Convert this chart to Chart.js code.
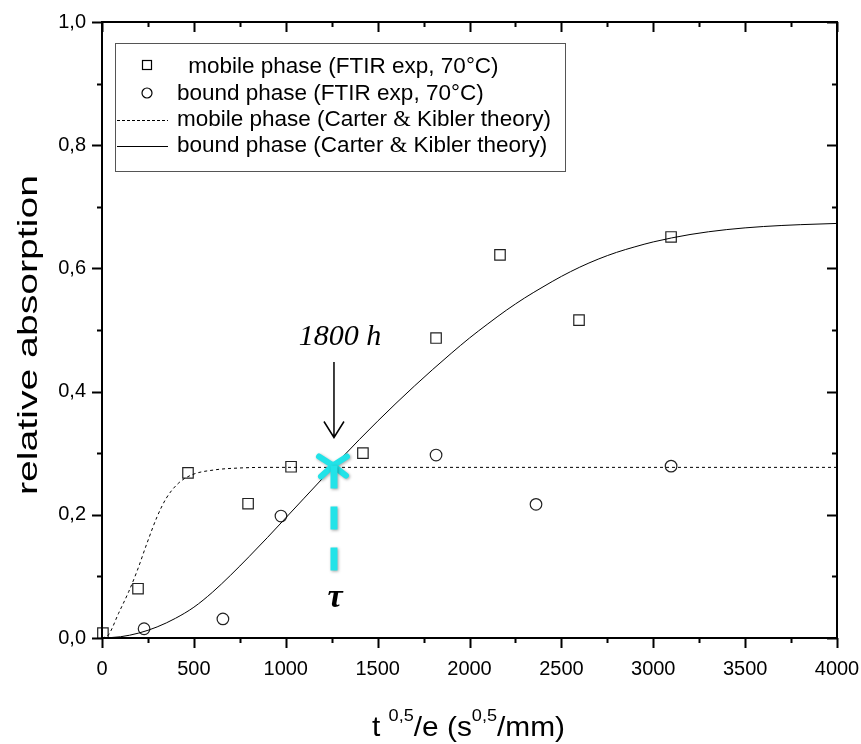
<!DOCTYPE html>
<html>
<head>
<meta charset="utf-8">
<script src="https://cdn.jsdelivr.net/npm/chart.js@4.4.1/dist/chart.umd.min.js"></script>
<style>
  html, body { margin: 0; padding: 0; background: #fff; }
  #grafico { display: block; }
</style>
</head>
<body>
<canvas id="grafico" width="861" height="744"></canvas>
<script>
// ======= Dados =======
const squareX = [5, 196, 468, 795, 1029, 1420, 1818, 2166, 2596, 3097];
const squareY = [0.008, 0.08, 0.268, 0.218, 0.278, 0.30, 0.487, 0.622, 0.516, 0.651];
const circleX = [229, 658, 974, 1818, 2362, 3097];
const circleY = [0.015, 0.031, 0.198, 0.297, 0.217, 0.279];

const dashX = [0, 35, 90, 145, 190, 245, 300, 350, 415, 490, 615, 750, 900, 4000];
const dashY = [0, 0.005, 0.04, 0.075, 0.108, 0.154, 0.197, 0.227, 0.251, 0.265, 0.273, 0.276, 0.277, 0.277];

const solidX = [0, 100, 200, 300, 400, 500, 600, 700, 800, 900, 1000, 1100, 1200, 1300, 1400, 1500, 1600, 1700, 1800, 1900, 2000,
  2100, 2200, 2300, 2400, 2500, 2600, 2700, 2800, 2900, 3000, 3200, 3400, 3600, 3800, 4000];
const solidY = [0, 0.002, 0.008, 0.018, 0.032, 0.05, 0.074, 0.102, 0.132, 0.163, 0.195, 0.227, 0.259, 0.291, 0.322, 0.352, 0.381, 0.409, 0.436, 0.462, 0.487,
  0.51, 0.532, 0.552, 0.57, 0.587, 0.602, 0.615, 0.626, 0.635, 0.643, 0.655, 0.663, 0.668, 0.671, 0.673];

const xTicks = [0, 500, 1000, 1500, 2000, 2500, 3000, 3500, 4000];
const xMinorTicks = [250, 750, 1250, 1750, 2250, 2750, 3250, 3750];
const yTicks = [0, 0.2, 0.4, 0.6, 0.8, 1.0];
const yTickLabels = ["0,0", "0,2", "0,4", "0,6", "0,8", "1,0"];
const yMinorTicks = [0.1, 0.3, 0.5, 0.7, 0.9];

const legendLabels = [
  " mobile phase (FTIR exp, 70°C)",
  "bound phase (FTIR exp, 70°C)",
  "mobile phase (Carter & Kibler theory)",
  "bound phase (Carter & Kibler theory)"
];
const tauX = 1257;
const tauY = 0.28;
const tauLabel = "1800 h";

const SANS = '"Liberation Sans", Arial, sans-serif';
const SERIF = '"Liberation Serif", "Times New Roman", serif';

function pares(xs, ys) {
  return xs.map((x, i) => ({ x: x, y: ys[i] }));
}

// ======= Eixos, legenda e anotações =======
const moldura = {
  id: "moldura",
  afterDraw(chart) {
    const ctx = chart.ctx;
    const a = chart.chartArea;
    const sx = chart.scales.x, sy = chart.scales.y;
    ctx.save();
    ctx.strokeStyle = "#000";
    ctx.fillStyle = "#000";

    // caixa
    ctx.lineWidth = 2;
    ctx.strokeRect(a.left, a.top, a.right - a.left, a.bottom - a.top);

    // ticks x (fora embaixo, dentro em cima)
    const tx = (v, len) => {
      const p = Math.round(sx.getPixelForValue(v)) + 0.5;
      ctx.beginPath();
      ctx.moveTo(p, a.bottom); ctx.lineTo(p, a.bottom + len);
      ctx.moveTo(p, a.top); ctx.lineTo(p, a.top + len);
      ctx.stroke();
    };
    xTicks.forEach(v => tx(v, 10));
    xMinorTicks.forEach(v => tx(v, 5));

    // ticks y (fora à esquerda, dentro à direita)
    const ty = (v, len) => {
      const p = Math.round(sy.getPixelForValue(v)) + 0.5;
      ctx.beginPath();
      ctx.moveTo(a.left, p); ctx.lineTo(a.left - len, p);
      ctx.moveTo(a.right, p); ctx.lineTo(a.right - len, p);
      ctx.stroke();
    };
    yTicks.forEach(v => ty(v, 10));
    yMinorTicks.forEach(v => ty(v, 5));

    // rótulos
    ctx.font = "20px " + SANS;
    ctx.textAlign = "center";
    ctx.textBaseline = "alphabetic";
    xTicks.forEach(v => ctx.fillText(String(v), sx.getPixelForValue(v), 675));
    ctx.textAlign = "right";
    ctx.textBaseline = "middle";
    yTicks.forEach((v, i) => ctx.fillText(yTickLabels[i], 86, sy.getPixelForValue(v)));

    // título y (esticado como no original)
    ctx.save();
    ctx.translate(37, 335);
    ctx.rotate(-Math.PI / 2);
    ctx.font = "28px " + SANS;
    const tituloY = "relative absorption";
    const w = ctx.measureText(tituloY).width;
    ctx.scale(320 / w, 1);
    ctx.textAlign = "center";
    ctx.textBaseline = "alphabetic";
    ctx.fillText(tituloY, 0, 0);
    ctx.restore();

    // título x com expoentes
    const partes = [
      ["t ", 28, 0], ["0,5", 17, -15], ["/e (s", 28, 0], ["0,5", 17, -15], ["/mm)", 28, 0]
    ];
    ctx.textAlign = "left";
    ctx.textBaseline = "alphabetic";
    let total = 0;
    partes.forEach(p => { ctx.font = p[1] + "px " + SANS; total += ctx.measureText(p[0]).width; });
    ctx.save();
    ctx.translate(372, 736);
    ctx.scale(193 / total, 1);
    let cx = 0;
    partes.forEach(p => {
      ctx.font = p[1] + "px " + SANS;
      ctx.fillText(p[0], cx, p[2]);
      cx += ctx.measureText(p[0]).width;
    });
    ctx.restore();

    // legenda
    ctx.lineWidth = 1;
    ctx.strokeStyle = "#555";
    ctx.strokeRect(115.5, 43.5, 450, 128);
    ctx.strokeStyle = "#000";
    const bases = [73, 100, 126, 152];
    const xs = [182, 177, 177, 177];
    ctx.lineWidth = 1.2;
    ctx.strokeRect(142.5, 60.5, 9, 9);
    ctx.beginPath(); ctx.arc(147, 93, 5, 0, Math.PI * 2); ctx.stroke();
    ctx.lineWidth = 1;
    ctx.setLineDash([3, 2]);
    ctx.beginPath(); ctx.moveTo(117, 120.5); ctx.lineTo(168, 120.5); ctx.stroke();
    ctx.setLineDash([]);
    ctx.beginPath(); ctx.moveTo(117, 146.5); ctx.lineTo(168, 146.5); ctx.stroke();
    // textos (o "&" em serifa, como no original)
    legendLabels.forEach((txt, i) => {
      let px = xs[i];
      const bits = txt.split("&");
      bits.forEach((b, j) => {
        ctx.font = "22.5px " + SANS;
        ctx.fillText(b, px, bases[i]);
        px += ctx.measureText(b).width;
        if (j < bits.length - 1) {
          ctx.font = "22.5px " + SERIF;
          ctx.fillText("&", px, bases[i]);
          px += ctx.measureText("&").width;
        }
      });
    });

    // anotação tau
    const px = sx.getPixelForValue(tauX);
    const py = sy.getPixelForValue(tauY);
    ctx.font = "italic 30px " + SERIF;
    ctx.textAlign = "center";
    ctx.fillText(tauLabel, px + 7, 345);
    // seta
    ctx.lineWidth = 1.5;
    ctx.beginPath();
    ctx.moveTo(px + 1, 362); ctx.lineTo(px + 1, py - 28);
    ctx.moveTo(px - 9, py - 44); ctx.lineTo(px + 1, py - 28); ctx.lineTo(px + 11, py - 44);
    ctx.stroke();

    // marca ciano
    ctx.shadowColor = "rgba(0,0,0,0.35)";
    ctx.shadowBlur = 3;
    ctx.shadowOffsetX = 1;
    ctx.shadowOffsetY = 1;
    ctx.strokeStyle = "#22e3e8";
    ctx.lineWidth = 6;
    ctx.lineCap = "round";
    ctx.beginPath();
    ctx.moveTo(px - 14, py - 9); ctx.lineTo(px, py);
    ctx.lineTo(px + 14, py - 9);
    ctx.moveTo(px - 12, py + 11); ctx.lineTo(px, py);
    ctx.lineTo(px + 13, py + 10);
    ctx.stroke();
    ctx.lineCap = "butt";
    ctx.lineWidth = 7;
    ctx.setLineDash([23, 18]);
    ctx.beginPath();
    ctx.moveTo(px + 1, py); ctx.lineTo(px + 1, 572);
    ctx.stroke();
    ctx.setLineDash([]);
    ctx.shadowColor = "transparent";

    ctx.fillStyle = "#000";
    ctx.font = "bold italic 34px " + SERIF;
    ctx.fillText("τ", px + 2, 607);
    ctx.restore();
  }
};

// ======= Gráfico =======
const ctx = document.getElementById("grafico").getContext("2d");
new Chart(ctx, {
  type: "scatter",
  data: {
    datasets: [
      { label: legendLabels[2], data: pares(dashX, dashY), showLine: true, borderColor: "#000", borderWidth: 1, borderDash: [3, 3], pointRadius: 0, cubicInterpolationMode: "monotone", fill: false },
      { label: legendLabels[3], data: pares(solidX, solidY), showLine: true, borderColor: "#000", borderWidth: 1, pointRadius: 0, cubicInterpolationMode: "monotone", fill: false },
      { label: legendLabels[0], data: pares(squareX, squareY), pointStyle: "rect", pointRadius: 7.4, borderColor: "#222", borderWidth: 1.2, backgroundColor: "rgba(0,0,0,0)", clip: false },
      { label: legendLabels[1], data: pares(circleX, circleY), pointStyle: "circle", pointRadius: 5.8, borderColor: "#222", borderWidth: 1.2, backgroundColor: "rgba(0,0,0,0)", clip: false }
    ]
  },
  options: {
    responsive: false,
    animation: false,
    devicePixelRatio: 1,
    layout: { padding: { left: 102, right: 24, top: 22, bottom: 106 } },
    plugins: { legend: { display: false }, tooltip: { enabled: false } },
    scales: {
      x: { type: "linear", min: 0, max: 4000, display: false },
      y: { type: "linear", min: 0, max: 1, display: false }
    }
  },
  plugins: [moldura]
});
</script>
</body>
</html>
